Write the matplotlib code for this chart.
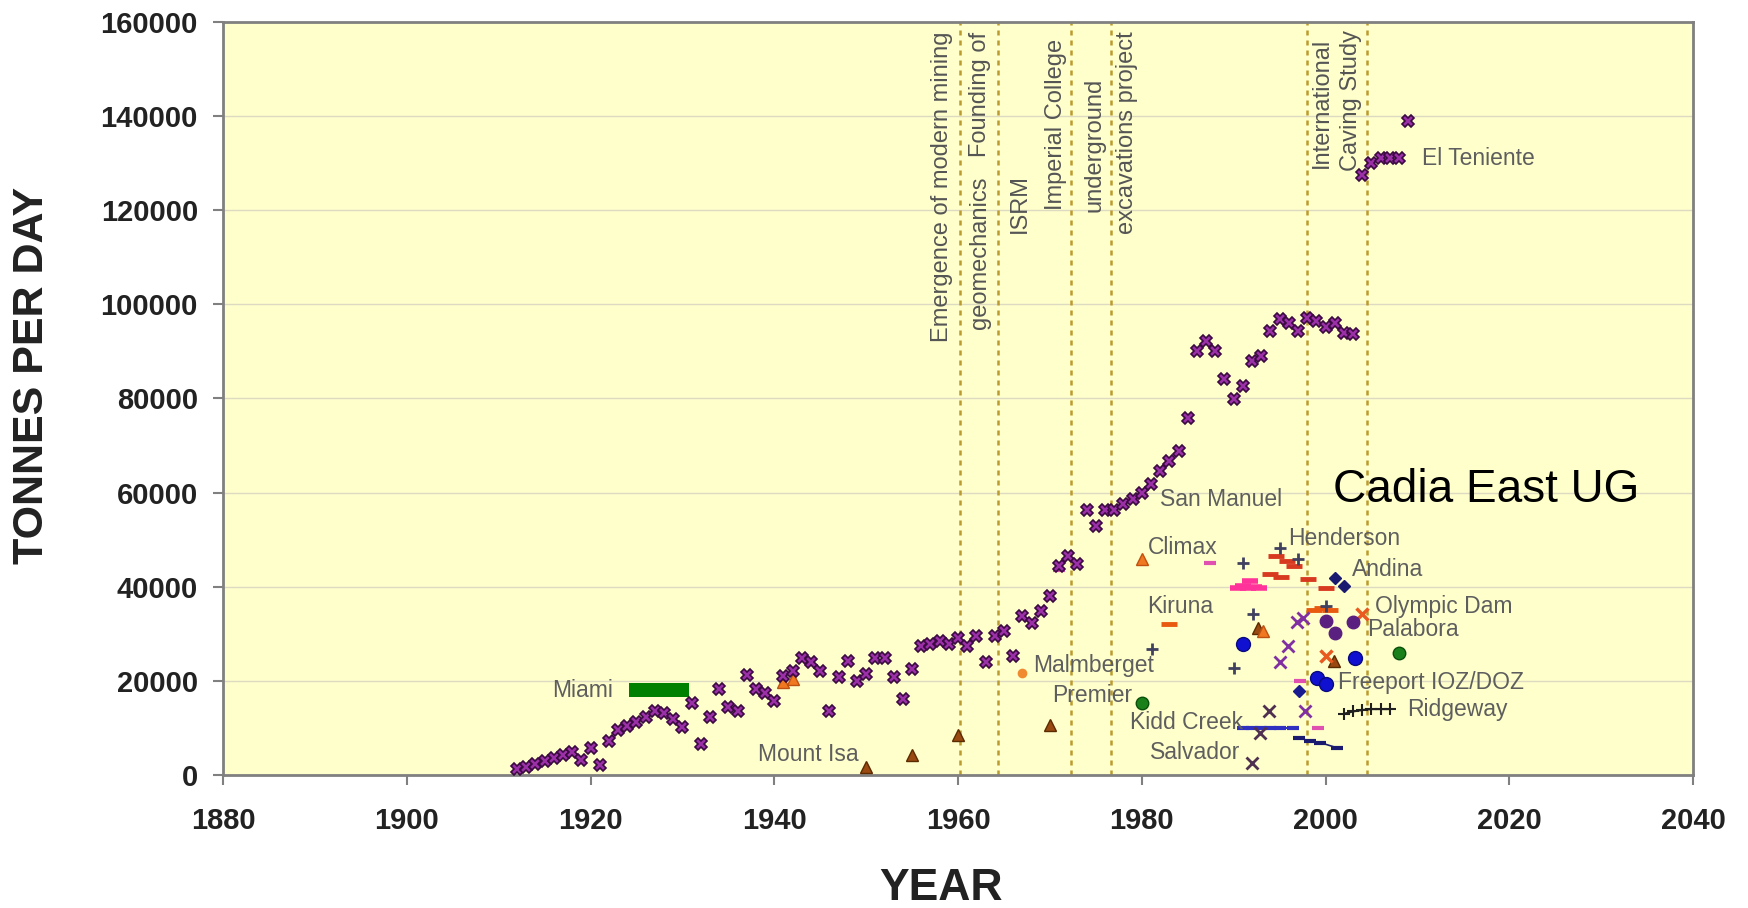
''' Block caving mine production rates, tonnes per day 1880-2040 '''

import matplotlib
matplotlib.use('Agg')
import matplotlib.pyplot as plt

plt.rcParams['font.family'] = ['Liberation Sans', 'DejaVu Sans']

# main long record (El Teniente)
teniente_years = list(range(1912, 2010))
teniente_tpd = [1200, 1800, 2300, 2900, 3600, 4300, 4900, 3200, 5700, 2100,
                7300, 9600, 10500, 11200, 12300, 13500, 13200, 12000, 10300, 15400,
                6500, 12300, 18200, 14400, 13600, 21200, 18200, 17500, 15700, 21000,
                22000, 24800, 24000, 22100, 13600, 20800, 24200, 20000, 21400, 24800,
                24800, 20800, 16100, 22500, 27400, 27900, 28500, 27900, 29200, 27400,
                29500, 23900, 29500, 30500, 25300, 33800, 32200, 34800, 38000, 44400,
                46500, 44800, 56400, 52800, 56400, 56200, 57500, 58700, 60000, 61800,
                64600, 66700, 68800, 75900, 90100, 92200, 90100, 84100, 79800, 82700,
                88000, 89000, 94300, 96800, 96100, 94300, 97000, 96500, 95100, 96100,
                94000, 93600, 127500, 130000, 131000, 131000, 131000, 139000]

miami_years = [1925, 1926, 1927, 1928, 1929, 1930]
miami_tpd = [18000, 18000, 18000, 18000, 18000, 18000]

mount_isa_years = [1950, 1955, 1960, 1970, 1992.7, 2000.9]
mount_isa_tpd = [1600, 4300, 8500, 10700, 31300, 24200]

climax_years = [1941, 1942, 1980, 1993.2]
climax_tpd = [19800, 20300, 45800, 30500]

malmberget_years = [1967]
malmberget_tpd = [21700]

premier_years = [1980, 2008]
premier_tpd = [15400, 26000]

kiruna_years = [1983, 1998.8, 1999.6, 2000.5]
kiruna_tpd = [32000, 35000, 35500, 35000]

henderson_years = [1994, 1994.6, 1995.2, 1995.8, 1996.6, 1998.1, 2000.1]
henderson_tpd = [42600, 46500, 42000, 45500, 44400, 41600, 39800]

other_plus_years = [1981.1, 1990, 1991, 1992.1, 1995, 1997, 2000]
other_plus_tpd = [26700, 22800, 45100, 34100, 48300, 45800, 35900]

san_manuel_years = [1971, 1979, 1980, 1987.4, 1997.2, 1999.2]
san_manuel_tpd = [43500, 58500, 59500, 45100, 20000, 10000]

pink_years = [1990.5, 1991, 1991.6, 1992.2, 1992.8, 1991.8]
pink_tpd = [39800, 40200, 39800, 40000, 39800, 41200]

andina_years = [2001, 2002]
andina_tpd = [41900, 40200]

olympic_years = [2000, 2004]
olympic_tpd = [25300, 34100]

palabora_years = [2000, 2001, 2003]
palabora_tpd = [32700, 30200, 32400]

freeport_years = [1991, 1999.1, 2000.1, 2003.2]
freeport_tpd = [27900, 20700, 19300, 24900]
freeport_d_years = [1997.1]
freeport_d_tpd = [17800]

ridgeway_years = [2002, 2003, 2004, 2005, 2006, 2007]
ridgeway_tpd = [13000, 13500, 13800, 14000, 14000, 14000]

kidd_years = [1991, 1992, 1993, 1994, 1995, 1996.5]
kidd_tpd = [10000, 10000, 10000, 10000, 10000, 10000]
kidd_b_years = [1997.1, 1998.3, 1999.4, 2001.2]
kidd_b_tpd = [7900, 7200, 6900, 5800]

salvador_years = [1992, 1992.9, 1993.9]
salvador_tpd = [2600, 9000, 13600]

purple_x_years = [1995, 1995.9, 1996.9, 1997.6, 1997.8]
purple_x_tpd = [23900, 27400, 32400, 33400, 13600]

event_years = [1960.2, 1964.4, 1972.3, 1976.6, 1998.0, 2004.5]

fig = plt.figure(figsize=(17.49, 9.08), dpi=100)
ax = fig.add_axes([0.1275, 0.1465, 0.8405, 0.8293])
ax.set_facecolor('#FFFFCC')
ax.set_xlim(1880, 2040)
ax.set_ylim(0, 160000)
ax.set_xticks(range(1880, 2041, 20))
ax.set_yticks(range(0, 160001, 20000))
ax.yaxis.grid(True, color='#dcdac0', lw=1)
ax.set_axisbelow(True)
for s in ax.spines.values():
    s.set_color('#808080')
    s.set_linewidth(2)
ax.tick_params(axis='both', direction='out', length=7, width=1.5,
               color='#808080', labelsize=21, labelcolor='#222222')
ax.tick_params(axis='x', pad=16)
ax.tick_params(axis='y', pad=11)
for lab in ax.get_xticklabels() + ax.get_yticklabels():
    lab.set_fontweight('bold')

for yr in event_years:
    ax.axvline(yr, color='#bb9a30', lw=1.8, ls=(0, (2, 2)), zorder=1)

# series
ax.plot(miami_years, miami_tpd, 's', color='#008000', ms=9.5, mew=0, zorder=3)
ax.plot(mount_isa_years, mount_isa_tpd, '^', color='#9a4a10', mec='#5a2a00', ms=9, zorder=3)
ax.plot(climax_years, climax_tpd, '^', color='#f07820', mec='#c05010', ms=9, zorder=3)
ax.plot(malmberget_years, malmberget_tpd, 'o', color='#f08a30', ms=7, mew=0, zorder=3)
ax.plot(premier_years, premier_tpd, 'o', color='#1a801a', mec='#0a500a', ms=9, zorder=3)
ax.plot(kiruna_years, kiruna_tpd, '_', color='#e85a10', ms=11, mew=3.5, zorder=3)
ax.plot(henderson_years, henderson_tpd, '_', color='#d83a20', ms=11, mew=3.5, zorder=3)
ax.plot(other_plus_years, other_plus_tpd, '+', color='#404060', ms=9, mew=2, zorder=3)
ax.plot(san_manuel_years, san_manuel_tpd, '_', color='#e050b0', ms=9, mew=3, zorder=3)
ax.plot(pink_years, pink_tpd, '_', color='#ff3399', ms=12, mew=4, zorder=3)
ax.plot(andina_years, andina_tpd, 'D', color='#1a1a70', ms=6.5, zorder=3)
ax.plot(olympic_years, olympic_tpd, 'x', color='#e85a20', ms=9, mew=2.5, zorder=3)
ax.plot(palabora_years, palabora_tpd, 'o', color='#5a2080', ms=9, zorder=3)
ax.plot(freeport_years, freeport_tpd, 'o', color='#1010d0', mec='#0a0a80', ms=10, zorder=3)
ax.plot(freeport_d_years, freeport_d_tpd, 'D', color='#1a1a90', ms=6.5, zorder=3)
ax.plot(ridgeway_years, ridgeway_tpd, '+-', color='#202020', ms=9, mew=1.5, lw=1.5, zorder=3)
ax.plot(kidd_years, kidd_tpd, '_-', color='#3030c0', ms=9, mew=3, lw=1.5, zorder=3)
ax.plot(kidd_b_years, kidd_b_tpd, '_-', color='#1a1a70', ms=9, mew=3, lw=1.2, zorder=3)
ax.plot(salvador_years, salvador_tpd, 'x', color='#503050', ms=8, mew=2, zorder=3)
ax.plot(purple_x_years, purple_x_tpd, 'x', color='#8030a0', ms=8, mew=2, zorder=3)
ax.plot(teniente_years, teniente_tpd, 'X', color='#9b30a8', mec='#3a0a40',
        ms=9, mew=1.2, ls='none', zorder=4)

# mine labels
labels = [('Miami', 1915.8, 18000), ('Mount Isa', 1938.2, 4400),
          ('Malmberget', 1968.2, 23200), ('Premier', 1970.2, 16800),
          ('San Manuel', 1982.0, 58600), ('Climax', 1980.7, 48300),
          ('Kiruna', 1980.6, 35900), ('Henderson', 1995.9, 50300),
          ('Andina', 2002.9, 43700), ('Olympic Dam', 2005.4, 35700),
          ('Palabora', 2004.5, 31000), ('Freeport IOZ/DOZ', 2001.4, 19600),
          ('Ridgeway', 2008.9, 14000), ('Kidd Creek', 1978.7, 11100),
          ('Salvador', 1980.9, 4700), ('El Teniente', 2010.5, 130900)]
for txt, x, y in labels:
    ax.text(x, y, txt, fontsize=16.5, color='#5e5e5e', ha='left', va='center', zorder=5)

ax.text(2000.8, 60500, 'Cadia East UG', fontsize=33, color='black',
        ha='left', va='center', zorder=6)

# event annotations (rotated)
events = [('Emergence of modern mining', 1958.3, 158000, 'top'),
          ('geomechanics', 1962.4, 94800, 'bottom'),
          ('Founding of', 1962.4, 158000, 'top'),
          ('ISRM', 1966.7, 127700, 'top'),
          ('Imperial College', 1970.7, 156400, 'top'),
          ('underground', 1974.9, 148100, 'top'),
          ('excavations project', 1978.4, 158000, 'top'),
          ('International', 1999.6, 156600, 'top'),
          ('Caving Study', 2002.8, 158400, 'top')]
for txt, x, y, va in events:
    ax.text(x, y, txt, rotation=90, fontsize=17, color='#555555',
            ha='center', va=va, zorder=5)

fig.text(32 / 1749, 1 - 375 / 908, 'TONNES PER DAY', rotation=90, fontsize=31,
         fontweight='bold', color='#222222', ha='center', va='center')
fig.text(941 / 1749, 1 - 889 / 908, 'YEAR', fontsize=32, fontweight='bold',
         color='#222222', ha='center', va='center')

fig.savefig('out.png', dpi=100)
